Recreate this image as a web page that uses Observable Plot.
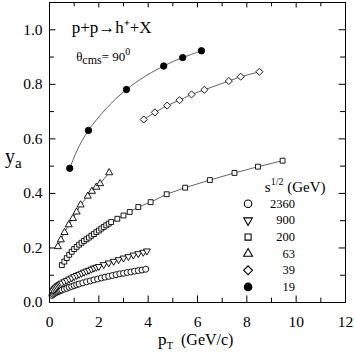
<!DOCTYPE html>
<html><head><meta charset="utf-8">
<script src="https://cdn.jsdelivr.net/npm/d3@7"></script>
<script src="https://cdn.jsdelivr.net/npm/@observablehq/plot@0.6"></script>
<style>body{margin:0;background:#fff}svg{display:block}</style>
</head><body><div id="chart"></div>
<script>
// ---- data ----
const pt2360 = [0.1,0.15,0.2,0.25,0.3,0.35,0.4,0.45,0.5,0.6,0.7,0.8,0.9,1.0,1.1,1.2,1.35,1.5,1.65,1.8,1.95,2.1,2.25,2.4,2.55,2.7,2.85,3.0,3.15,3.3,3.45,3.6,3.75,3.9];
const ya2360 = [0.026,0.030,0.033,0.036,0.038,0.040,0.042,0.044,0.046,0.049,0.052,0.056,0.059,0.062,0.065,0.068,0.072,0.076,0.079,0.083,0.086,0.090,0.093,0.096,0.099,0.102,0.105,0.107,0.110,0.112,0.115,0.117,0.119,0.122];
const pt900 = [0.15,0.2,0.25,0.3,0.35,0.4,0.45,0.5,0.6,0.7,0.8,0.9,1.0,1.1,1.2,1.3,1.4,1.5,1.6,1.7,1.8,1.9,2.0,2.2,2.4,2.6,2.8,3.0,3.2,3.4,3.6,3.8,3.95];
const ya900 = [0.045,0.050,0.054,0.058,0.062,0.065,0.068,0.071,0.076,0.081,0.086,0.090,0.095,0.099,0.103,0.107,0.111,0.115,0.118,0.122,0.126,0.129,0.132,0.139,0.145,0.151,0.157,0.163,0.168,0.174,0.179,0.184,0.189];
const pt200 = [0.5,0.6,0.7,0.8,0.9,1.0,1.1,1.2,1.3,1.4,1.5,1.6,1.7,1.8,1.9,2.0,2.1,2.2,2.3,2.4,2.5,2.75,3.0,3.25,3.6,4.1,4.75,5.5,6.5,7.5,8.45,9.45];
const ya200 = [0.137,0.150,0.163,0.175,0.186,0.196,0.204,0.212,0.219,0.226,0.232,0.238,0.245,0.251,0.258,0.264,0.271,0.277,0.283,0.289,0.295,0.307,0.319,0.332,0.350,0.368,0.397,0.421,0.449,0.475,0.498,0.520];
const pt63 = [0.34,0.46,0.61,0.78,0.95,1.1,1.26,1.55,1.72,1.9,2.05,2.42];
const ya63 = [0.205,0.230,0.257,0.285,0.308,0.332,0.358,0.390,0.408,0.423,0.436,0.476];
const pt39 = [3.82,4.27,4.77,5.27,5.76,6.28,7.27,7.75,8.51];
const ya39 = [0.671,0.697,0.722,0.742,0.763,0.780,0.812,0.828,0.846];
const pt19 = [0.82,1.58,3.12,4.63,5.40,6.16];
const ya19 = [0.492,0.631,0.781,0.867,0.898,0.923];

const xTicks = [0,2,4,6,8,10,12];
const yTicks = [0,0.2,0.4,0.6,0.8,1.0];
const legendLabels = ["2360","900","200","63","39","19"];
const legendTitle = "s";
const legendTitleSup = "1/2";
const legendTitleUnit = " (GeV)";
const reactionText = "p+p\u2192h\u207A+X";
const xTitle = ["p","T","(GeV/c)"];
const yTitle = ["y","a"];

// ---- build ----
const seriesDefs = [
  {name:"2360", pt:pt2360, ya:ya2360, symbol:"circle", fill:"none", rotate:0, r:3},
  {name:"900", pt:pt900, ya:ya900, symbol:"triangle2", fill:"none", rotate:180, r:3.3},
  {name:"200", pt:pt200, ya:ya200, symbol:"square2", fill:"none", rotate:0, r:3.1},
  {name:"63", pt:pt63, ya:ya63, symbol:"triangle2", fill:"none", rotate:0, r:3.4},
  {name:"39", pt:pt39, ya:ya39, symbol:"diamond2", fill:"none", rotate:0, r:3.2},
  {name:"19", pt:pt19, ya:ya19, symbol:"circle", fill:"black", rotate:0, r:3.2}
];
const rowsOf = s => s.pt.map((p,i)=>({s:s.name, pt:p, ya:s.ya[i]}));

const marks = [];
const xAll = d3.range(0,13,1), yAll = d3.range(0,11,1).map(d=>d/10);
marks.push(Plot.ruleX(xAll,{y1:0, y2:d=> d%2===0?0.024:0.016, stroke:"black", strokeWidth:1}));
marks.push(Plot.ruleX(xAll,{y1:1.1, y2:d=> 1.1-(d%2===0?0.02:0.016), stroke:"black", strokeWidth:1}));
marks.push(Plot.ruleY(yAll,{x1:0, x2:d=> Math.round(d*10)%2===0?0.26:0.2, stroke:"black", strokeWidth:1}));
marks.push(Plot.ruleY(yAll,{x1:12, x2:d=> 12-(Math.round(d*10)%2===0?0.26:0.2), stroke:"black", strokeWidth:1}));
for (const s of seriesDefs) {
  marks.push(Plot.line(rowsOf(s), {x:"pt", y:"ya", stroke:"#222", strokeWidth:0.7, curve: s.name==="19" ? "natural" : "linear"}));
}
for (const s of seriesDefs) {
  marks.push(Plot.dot(rowsOf(s), {x:"pt", y:"ya", symbol:()=>s.symbol, r:s.r, rotate:s.rotate,
    stroke:"black", strokeWidth:0.9, fill: s.fill==="none" ? "white" : "black"}));
}
const legX = 8.05, legLabelX = 9.95, legY0 = 0.362, legStep = 0.061;
legendLabels.forEach((lab,i)=>{
  const s = seriesDefs.find(d=>d.name===lab);
  marks.push(Plot.dot([{x:legX,y:legY0-i*legStep}],{x:"x",y:"y",symbol:()=>s.symbol,r:(s.name==="19"?3.8:s.r*1.25),rotate:s.rotate,
    stroke:"black",strokeWidth:1.1,fill:s.fill==="none"?"white":"black"}));
});
marks.push(Plot.text(legendLabels.map((l,i)=>({l, y:legY0-i*legStep})),
  {x:()=>legLabelX, y:"y", text:"l", textAnchor:"end", fontSize:12.5, fill:"black"}));
marks.push(Plot.axisX({ticks:xTicks, tickSize:0, tickPadding:13, fontSize:15.5, tickFormat:d3.format("d")}));
marks.push(Plot.axisY({ticks:yTicks, tickSize:0, tickPadding:7, fontSize:15.5, tickFormat:d3.format(".1f")}));
marks.push(Plot.frame({stroke:"black", strokeWidth:1}));

const plot = Plot.plot({
  width:354, height:354,
  marginLeft:49, marginRight:9, marginTop:2, marginBottom:52,
  x:{domain:[0,12]}, y:{domain:[0,1.1]},
  style:{fontFamily:"'Liberation Serif', 'Times New Roman', serif", color:"black", background:"white"},
  marks
});
document.getElementById("chart").append(plot);

const svg = d3.select(plot);
const X = plot.scale("x"), Y = plot.scale("y");
const font = "'Liberation Serif', 'Times New Roman', serif";
function rich(x, y, parts, anchor="start") {
  const t = svg.append("text").attr("x",x).attr("y",y).attr("font-family",font).attr("fill","black").attr("text-anchor",anchor);
  let shift = 0;
  for (const p of parts) {
    t.append("tspan").attr("font-size",p.size).attr("dy",(p.dy||0)-shift).text(p.t);
    shift = p.dy||0;
  }
  return t;
}
rich(X.apply(0.92), Y.apply(0.985), [{t:reactionText, size:17}]);
rich(X.apply(1.1), Y.apply(0.883), [{t:"\u03B8",size:13},{t:"cms",size:12,dy:3},{t:"= 90",size:13,dy:0},{t:"0",size:10,dy:-6}]);
rich(X.apply(8.75), Y.apply(0.403), [{t:legendTitle,size:15},{t:legendTitleSup,size:10,dy:-7},{t:legendTitleUnit,size:15,dy:0}]);
rich(158, 345, [{t:xTitle[0],size:17},{t:xTitle[1],size:11,dy:4}]);
rich(181, 345, [{t:xTitle[2],size:16}]);
rich(5, 163, [{t:yTitle[0],size:20},{t:yTitle[1],size:15,dy:5}]);
</script></body></html>
